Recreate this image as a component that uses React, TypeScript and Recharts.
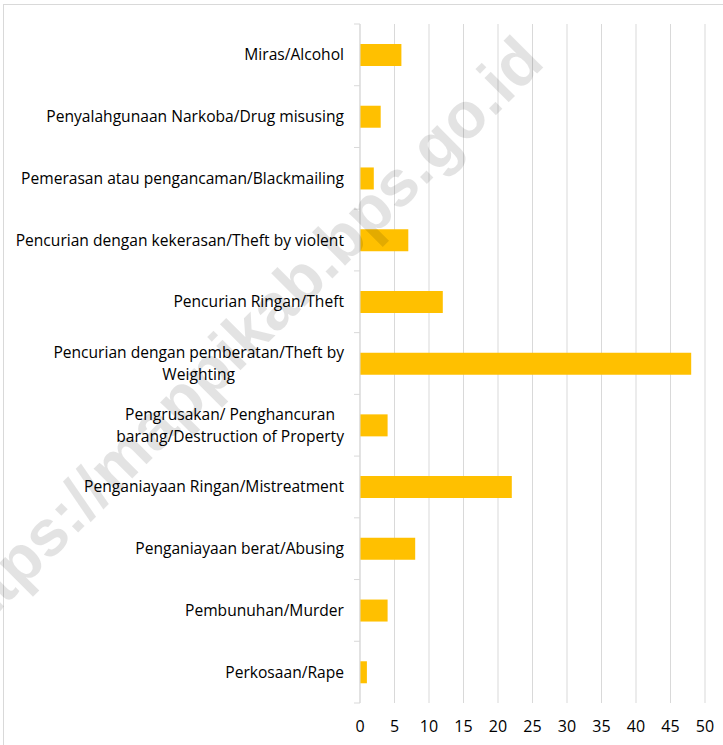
import React from 'react';
import { BarChart, Bar, XAxis, YAxis, CartesianGrid } from 'recharts';

const categories = [
  'Miras/Alcohol',
  'Penyalahgunaan Narkoba/Drug misusing',
  'Pemerasan atau pengancaman/Blackmailing',
  'Pencurian dengan kekerasan/Theft by violent',
  'Pencurian Ringan/Theft',
  'Pencurian dengan pemberatan/Theft by\nWeighting',
  'Pengrusakan/ Penghancuran\nbarang/Destruction of Property',
  'Penganiayaan Ringan/Mistreatment',
  'Penganiayaan berat/Abusing',
  'Pembunuhan/Murder',
  'Perkosaan/Rape',
];
const values = [6, 3, 2, 7, 12, 48, 4, 22, 8, 4, 1];
const xTicks = [0, 5, 10, 15, 20, 25, 30, 35, 40, 45, 50];

const data = categories.map((name, i) => ({ name, value: values[i] }));

const W = 723;
const H = 745;
const TOP = 24;
const BOTTOM_AXIS = 42;
const PLOT_H = H - TOP - BOTTOM_AXIS;
const BAND = PLOT_H / categories.length;
const FONT = "'Open Sans', sans-serif";
const FS = 15.6;
const GRID = '#D9D9D9';

let ctx: CanvasRenderingContext2D | null = null;
const measure = (t: string) => {
  if (!ctx) {
    const c = document.createElement('canvas');
    ctx = c.getContext('2d');
  }
  if (!ctx) return t.length * 7.8;
  ctx.font = `${FS}px ${FONT}`;
  return ctx.measureText(t).width;
};

const YTick = (props: any) => {
  const { y, payload, index } = props;
  const lines = String(payload.value).split('\n');
  const right = 344;
  const lh = 22;
  const y0 = y - ((lines.length - 1) * lh) / 2;
  const maxW = Math.max(...lines.map(measure));
  const multi = lines.length > 1;
  const cx = right - maxW / 2;
  return (
    <g>
      <line x1={354} x2={360} y1={y - BAND / 2} y2={y - BAND / 2} stroke={GRID} strokeWidth={1} />
      {index === categories.length - 1 && (
        <line x1={354} x2={360} y1={y + BAND / 2} y2={y + BAND / 2} stroke={GRID} strokeWidth={1} />
      )}
      {lines.map((l, i) => (
        <text
          key={i}
          x={multi ? cx : right}
          y={y0 + i * lh}
          dy="0.35em"
          textAnchor={multi ? 'middle' : 'end'}
          fill="#000"
          fontSize={FS}
          fontFamily={FONT}
        >
          {l}
        </text>
      ))}
    </g>
  );
};

const XTick = (props: any) => {
  const { x, y, payload } = props;
  return (
    <text x={x} y={y} dy={21} textAnchor="middle" fill="#000" fontSize={16} fontFamily={FONT}>
      {payload.value}
    </text>
  );
};

export default function App() {
  return (
    <div style={{ position: 'absolute', left: 0, top: 0, width: W, height: H, background: '#fff', overflow: 'hidden' }}>
      <div
        style={{
          position: 'absolute',
          left: 3,
          top: 4,
          width: W,
          height: H,
          borderLeft: `1px solid ${GRID}`,
          borderTop: `1px solid ${GRID}`,
        }}
      />
      <BarChart
        width={W}
        height={H}
        data={data}
        layout="vertical"
        margin={{ top: TOP, right: 18, bottom: 0, left: 0 }}
        style={{ position: 'absolute', left: 0, top: 0 }}
      >
        <CartesianGrid horizontal={false} vertical={true} stroke={GRID} />
        <XAxis
          type="number"
          domain={[0, 50]}
          ticks={xTicks}
          height={BOTTOM_AXIS}
          axisLine={false}
          tickLine={false}
          tick={<XTick />}
          interval={0}
        />
        <YAxis
          type="category"
          dataKey="name"
          width={360}
          axisLine={{ stroke: GRID }}
          tickLine={false}
          tick={<YTick />}
          interval={0}
        />
        <Bar dataKey="value" fill="#FFC000" barSize={22} isAnimationActive={false} />
      </BarChart>
      <svg
        width={W}
        height={H}
        style={{ position: 'absolute', left: 0, top: 0, pointerEvents: 'none' }}
      >
        <text
          x={238}
          y={341}
          textAnchor="middle"
          dominantBaseline="central"
          transform="rotate(-45 238 341)"
          fontFamily="'Liberation Sans', Arial, sans-serif"
          fontWeight="bold"
          fontSize={65}
          fill="#000"
          fillOpacity={0.11}
        >
          https://mappikab.bps.go.id
        </text>
      </svg>
    </div>
  );
}
